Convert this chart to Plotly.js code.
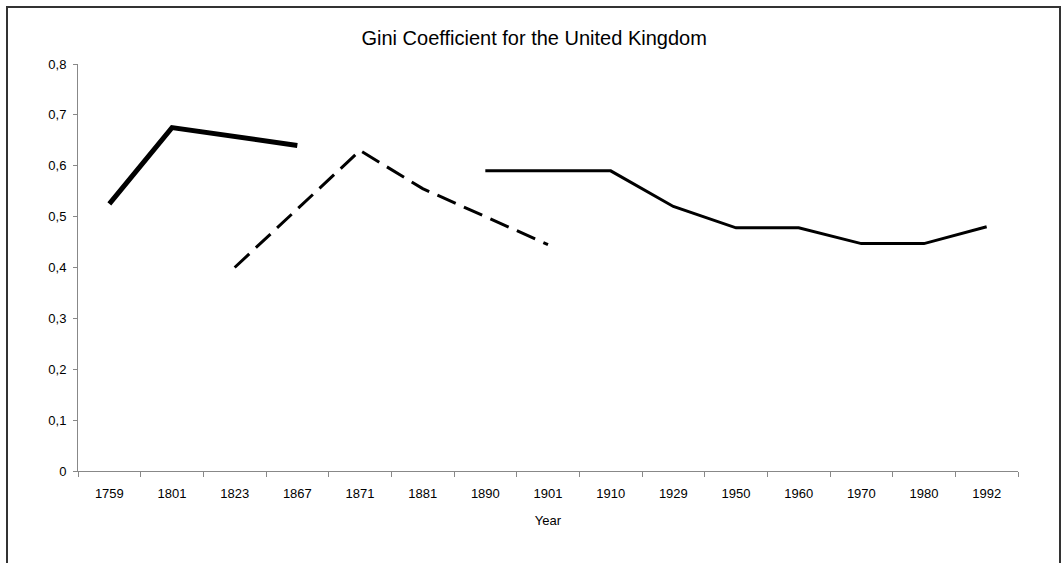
<!DOCTYPE html>
<html>
<head>
<meta charset="utf-8">
<script src="https://cdn.plot.ly/plotly-3.0.1.min.js"></script>
<style>
  html, body { margin: 0; padding: 0; background: #fff; }
  #wrap { position: relative; width: 1062px; height: 563px; overflow: hidden; }
  #chart { width: 1062px; height: 563px; }
  #frame { position: absolute; left: 6px; top: 6px; width: 1055px; height: 600px;
           border: 2px solid #333; pointer-events: none; box-sizing: border-box; }
</style>
</head>
<body>
<div id="wrap">
  <div id="chart"></div>
  <div id="frame"></div>
</div>
<script>
const years = ["1759","1801","1823","1867","1871","1881","1890","1901","1910","1929","1950","1960","1970","1980","1992"];

const seriesA_x = ["1759","1801","1867"];
const seriesA_y = [0.525, 0.675, 0.64];

const seriesB_x = ["1823","1871","1881","1901"];
const seriesB_y = [0.40, 0.63, 0.555, 0.445];

const seriesC_x = ["1890","1901","1910","1929","1950","1960","1970","1980","1992"];
const seriesC_y = [0.59, 0.59, 0.59, 0.52, 0.478, 0.478, 0.447, 0.447, 0.48];

const yTicks = [0, 0.1, 0.2, 0.3, 0.4, 0.5, 0.6, 0.7, 0.8];

const traces = [
  { x: seriesA_x, y: seriesA_y, type: "scatter", mode: "lines",
    line: { color: "#000", width: 5 }, hoverinfo: "x+y" },
  { x: seriesB_x, y: seriesB_y, type: "scatter", mode: "lines",
    line: { color: "#000", width: 3, dash: "20px,9px" }, hoverinfo: "x+y" },
  { x: seriesC_x, y: seriesC_y, type: "scatter", mode: "lines",
    line: { color: "#000", width: 3 }, hoverinfo: "x+y" }
];

const layout = {
  width: 1062, height: 563,
  margin: { l: 78, r: 44, t: 64, b: 92 },
  paper_bgcolor: "#fff", plot_bgcolor: "#fff",
  showlegend: false,
  separators: ", ",
  font: { family: "Liberation Sans, Arial, sans-serif", size: 13, color: "#000" },
  title: {
    text: "Gini Coefficient for the United Kingdom",
    font: { family: "Liberation Sans, Arial, sans-serif", size: 20, color: "#000" },
    x: 0.503, xanchor: "center", y: 0.933, yanchor: "middle"
  },
  xaxis: {
    type: "category",
    categoryorder: "array", categoryarray: years,
    tickvals: years,
    range: [-0.5, years.length - 0.5],
    showgrid: false, zeroline: false,
    showline: true, linecolor: "#888", linewidth: 1,
    ticks: "outside", ticklen: 5, tickcolor: "#888", tickson: "boundaries",
    ticklabelstandoff: 10,
    tickfont: { size: 13, color: "#000" },
    title: { text: "Year", font: { size: 13, color: "#000" }, standoff: 16 }
  },
  yaxis: {
    range: [0, 0.8],
    tickvals: yTicks,
    showgrid: false, zeroline: false,
    showline: true, linecolor: "#888", linewidth: 1,
    ticks: "outside", ticklen: 4, tickcolor: "#888",
    ticklabelstandoff: 4,
    tickfont: { size: 13, color: "#000" }
  }
};

Plotly.newPlot("chart", traces, layout, { displayModeBar: false, staticPlot: true });
</script>
</body>
</html>
